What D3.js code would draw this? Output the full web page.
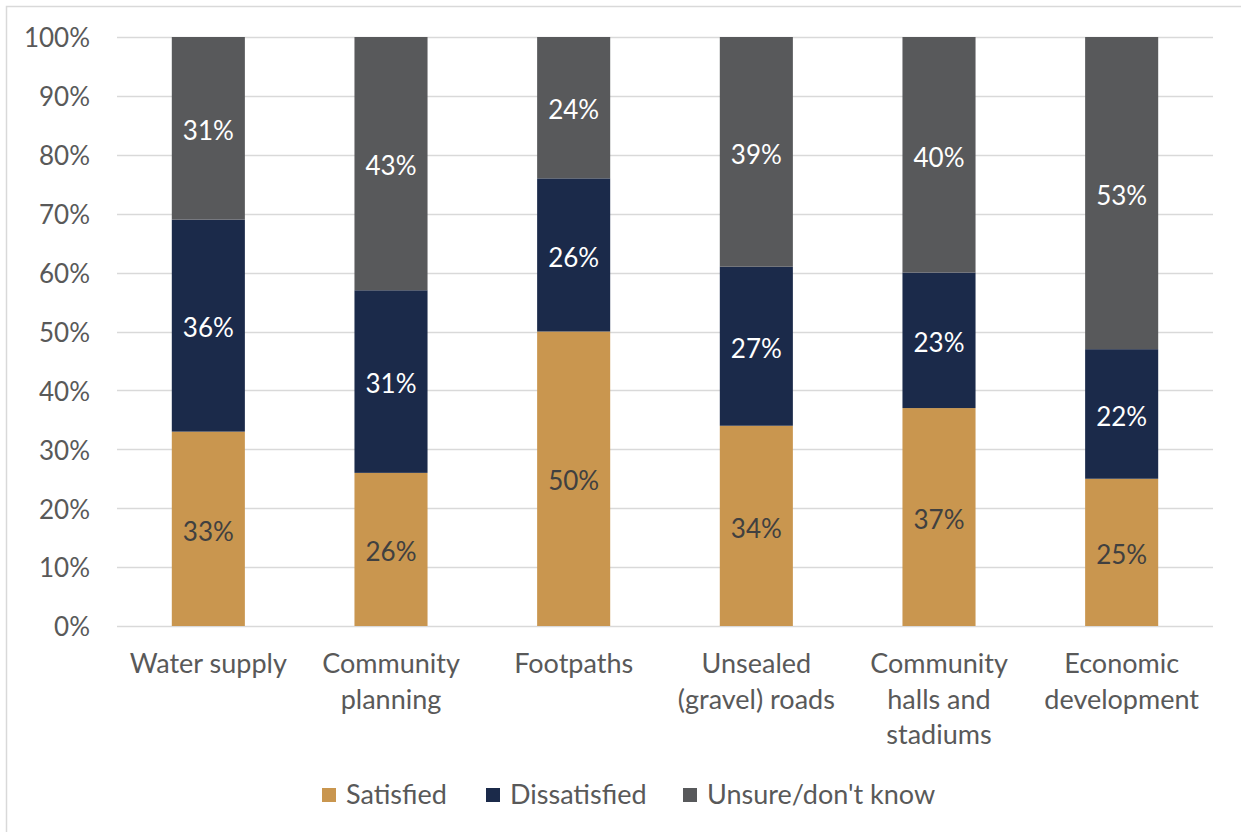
<!DOCTYPE html>
<html>
<head>
<meta charset="utf-8">
<script src="https://cdn.jsdelivr.net/npm/d3@7"></script>
<style>
  html, body { margin: 0; padding: 0; background: #fff; }
  svg { display: block; }
  text { font-family: Lato, "Open Sans", sans-serif; }
</style>
</head>
<body>
<svg id="chart" width="1241" height="832"></svg>
<script>
// Satisfaction with council services (stacked 100% columns)
const categories = [
  ["Water supply"],
  ["Community", "planning"],
  ["Footpaths"],
  ["Unsealed", "(gravel) roads"],
  ["Community", "halls and", "stadiums"],
  ["Economic", "development"]
];
const seriesNames = ["Satisfied", "Dissatisfied", "Unsure/don't know"];
const satisfied    = [33, 26, 50, 34, 37, 25];
const dissatisfied = [36, 31, 26, 27, 23, 22];
const unsure       = [31, 43, 24, 39, 40, 53];
const yTicks = [0, 10, 20, 30, 40, 50, 60, 70, 80, 90, 100];

const colors = ["#C9964F", "#1B2A4A", "#58595B"];
const labelColors = ["#404040", "#ffffff", "#ffffff"];

const svg = d3.select("#chart");

// outer frame
svg.append("rect")
  .attr("x", 6.5).attr("y", 6.5)
  .attr("width", 1260).attr("height", 860)
  .attr("fill", "#fff").attr("stroke", "#d9d9d9").attr("stroke-width", 1.5);

const plot = { left: 117, right: 1213, top: 37, bottom: 626 };

const keys = categories.map(c => c.join(" "));
const x = d3.scaleBand().domain(keys).range([plot.left, plot.right]).padding(0);
const y = d3.scaleLinear().domain([0, 100]).range([plot.bottom, plot.top]);
const barW = x.bandwidth() * 0.4;

// gridlines
svg.append("g").selectAll("line")
  .data(yTicks)
  .join("line")
  .attr("x1", plot.left).attr("x2", plot.right)
  .attr("y1", d => Math.round(y(d)) + 0.5).attr("y2", d => Math.round(y(d)) + 0.5)
  .attr("stroke", "#d9d9d9").attr("stroke-width", 1.5);

// y axis labels
const yAxis = d3.axisLeft(y).tickValues(yTicks).tickFormat(d => d + "%").tickSize(0).tickPadding(0);
const yg = svg.append("g").attr("transform", `translate(${plot.left - 27},0)`).call(yAxis);
yg.select(".domain").remove();
yg.selectAll("text")
  .attr("fill", "#595959").attr("font-size", 26).attr("dy", "0.38em")
  .style("font-family", "Lato, 'Open Sans', sans-serif");

// stacked data
const rows = keys.map((k, i) => ({ key: k, Satisfied: satisfied[i], Dissatisfied: dissatisfied[i], "Unsure/don't know": unsure[i] }));
const stack = d3.stack().keys(seriesNames)(rows);

const layers = svg.append("g").selectAll("g")
  .data(stack)
  .join("g")
  .attr("fill", (d, i) => colors[i]);

layers.selectAll("rect")
  .data(d => d)
  .join("rect")
  .attr("x", d => x(d.data.key) + (x.bandwidth() - barW) / 2)
  .attr("width", barW)
  .attr("y", d => y(d[1]))
  .attr("height", d => y(d[0]) - y(d[1]));

// value labels
stack.forEach((layer, si) => {
  svg.append("g").selectAll("text")
    .data(layer)
    .join("text")
    .attr("x", d => x(d.data.key) + x.bandwidth() / 2)
    .attr("y", d => y((d[0] + d[1]) / 2))
    .attr("dy", "0.45em")
    .attr("text-anchor", "middle")
    .attr("font-size", 26)
    .attr("fill", labelColors[si])
    .text(d => (d[1] - d[0]) + "%");
});

// category labels
const catG = svg.append("g").selectAll("text")
  .data(categories)
  .join("text")
  .attr("x", (d, i) => x(keys[i]) + x.bandwidth() / 2)
  .attr("y", 664)
  .attr("text-anchor", "middle")
  .attr("font-size", 27)
  .attr("fill", "#595959");
catG.selectAll("tspan")
  .data(d => d)
  .join("tspan")
  .attr("x", function() { return this.parentNode.getAttribute("x"); })
  .attr("dy", (d, i) => i === 0 ? "0.35em" : 35.5)
  .text(d => d);

// legend
const legendItems = [
  { name: seriesNames[0], x: 322 },
  { name: seriesNames[1], x: 486 },
  { name: seriesNames[2], x: 683 }
];
const lg = svg.append("g").selectAll("g")
  .data(legendItems)
  .join("g")
  .attr("transform", d => `translate(${d.x},795)`);
lg.append("rect")
  .attr("x", 0).attr("y", -7).attr("width", 14).attr("height", 14)
  .attr("fill", (d, i) => colors[i]);
lg.append("text")
  .attr("x", 24).attr("dy", "0.35em")
  .attr("font-size", 27).attr("fill", "#595959")
  .text(d => d.name);
</script>
</body>
</html>
